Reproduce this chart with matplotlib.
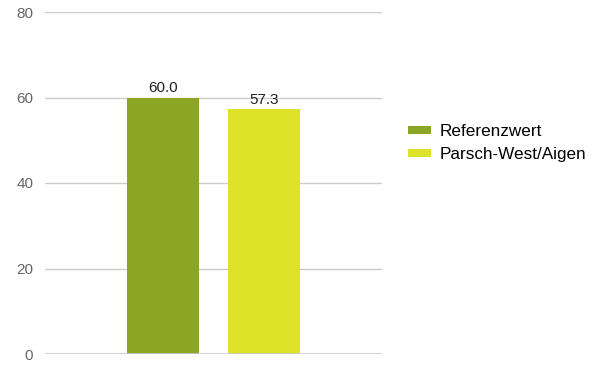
import matplotlib
matplotlib.use("Agg")
import matplotlib.pyplot as plt
from matplotlib.patches import Patch

plt.rcParams['font.family'] = ['Liberation Sans', 'DejaVu Sans']

series = ["Referenzwert", "Parsch-West/Aigen"]
values = [60.0, 57.3]
colors = ["#8ca523", "#dee229"]
yticks = [0, 20, 40, 60, 80]

fig = plt.figure(figsize=(6.03, 3.68), dpi=100)
ax = fig.add_axes([45/603, 14/368, 337/603, 342/368])
x = [0, 1]
bars = ax.bar(x, values, width=0.713, color=colors, zorder=3)
for xi, v in zip(x, values):
    ax.text(xi, v + 0.5, f"{v:.1f}", ha="center", va="bottom", fontsize=11, color="#222222")
ax.set_xlim(-1.168, 2.168)
ax.set_ylim(0, 80)
ax.set_yticks(yticks)
ax.set_yticklabels([str(t) for t in yticks])
for t in yticks[1:]:
    ax.axhline(t, color="#cccccc", lw=1.0, zorder=1)
ax.axhline(0, color="#c4cad8", lw=1.2, zorder=4)
for s in ax.spines.values():
    s.set_visible(False)
ax.set_xticks([])
ax.tick_params(axis="y", length=0, pad=8.5, labelsize=11, labelcolor="#666666")

handles = [Patch(facecolor=c, label=l) for c, l in zip(colors, series)]
fig.legend(handles=handles, loc="center left", bbox_to_anchor=(399/603, 1 - 143/368),
           frameon=False, fontsize=12.3, handlelength=1.4, handleheight=0.35,
           handletextpad=0.46, labelspacing=0.45, borderpad=0)
fig.savefig("out.png", dpi=100)
